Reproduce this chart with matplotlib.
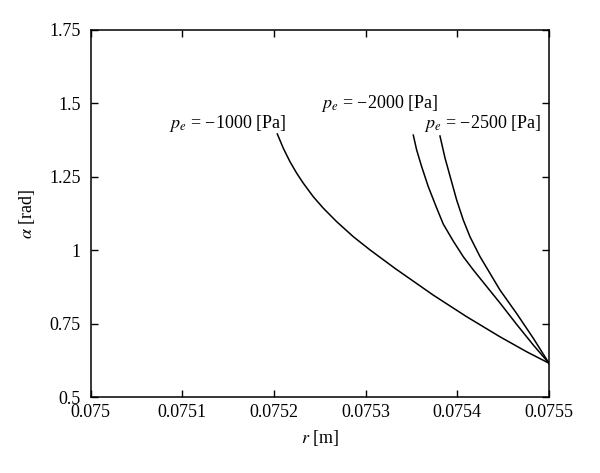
import matplotlib
matplotlib.use('Agg')
import matplotlib.pyplot as plt

# alpha vs r, one curve per exit pressure
r_1000 = [0.0752037, 0.0752103, 0.0752176, 0.0752249, 0.0752321, 0.0752430,
          0.0752539, 0.0752685, 0.0752866, 0.0753048, 0.0753321, 0.0753738,
          0.0754102, 0.0754466, 0.0754757, 0.0755]
a_1000 = [1.396, 1.347, 1.301, 1.262, 1.228, 1.182, 1.143, 1.097, 1.046,
          1.001, 0.938, 0.847, 0.7735, 0.705, 0.654, 0.615]

r_2000 = [0.0753520, 0.0753557, 0.0753612, 0.0753684, 0.0753775, 0.0753847,
          0.0753956, 0.0754065, 0.0754174, 0.0754321, 0.0754466, 0.0754648,
          0.0754829, 0.0755]
a_2000 = [1.392, 1.341, 1.284, 1.216, 1.1437, 1.089, 1.031, 0.978, 0.933,
          0.876, 0.820, 0.747, 0.677, 0.615]

r_2500 = [0.0753811, 0.0753866, 0.0753993, 0.0754065, 0.0754138, 0.0754248,
          0.0754357, 0.0754466, 0.0754648, 0.0754829, 0.0755]
a_2500 = [1.389, 1.314, 1.171, 1.103, 1.046, 0.978, 0.921, 0.864, 0.784,
          0.700, 0.615]

labels = ['$p_e$ = \u22121000 [Pa]', '$p_e$ = \u22122000 [Pa]', '$p_e$ = \u22122500 [Pa]']
label_pos = [(0.0751496, 1.430), (0.0753155, 1.498), (0.075428, 1.430)]

x_ticks = [0.075, 0.0751, 0.0752, 0.0753, 0.0754, 0.0755]
x_ticklabels = ['0.075', '0.0751', '0.0752', '0.0753', '0.0754', '0.0755']
y_ticks = [0.5, 0.75, 1.0, 1.25, 1.5, 1.75]
y_ticklabels = ['0.5', '0.75', '1', '1.25', '1.5', '1.75']

plt.rcParams['font.family'] = ['Liberation Serif', 'DejaVu Serif']
plt.rcParams['mathtext.fontset'] = 'stix'
plt.rcParams['font.size'] = 13

fig = plt.figure(figsize=(6.0, 4.73), dpi=100)
ax = fig.add_axes([90.5 / 600, 1 - 397 / 473, (549 - 90.5) / 600, (397 - 30) / 473])

for r, a in [(r_1000, a_1000), (r_2000, a_2000), (r_2500, a_2500)]:
    ax.plot(r, a, color='k', lw=1.1, solid_joinstyle='round')

for txt, (x, y) in zip(labels, label_pos):
    ax.text(x, y, txt, ha='center', va='center')

ax.set_xlim(0.075, 0.0755)
ax.set_ylim(0.5, 1.75)
ax.set_xticks(x_ticks)
ax.set_xticklabels(x_ticklabels)
ax.set_yticks(y_ticks)
ax.set_yticklabels(y_ticklabels)
ax.tick_params(direction='in', top=True, right=True, length=5, width=1)
ax.tick_params(axis='x', pad=5)
ax.tick_params(axis='y', pad=7)
for s in ax.spines.values():
    s.set_linewidth(1.1)

ax.set_xlabel('$r$ [m]', labelpad=5)
ax.set_ylabel('$\\alpha$ [rad]', labelpad=9)

fig.savefig('out.png', dpi=100)
